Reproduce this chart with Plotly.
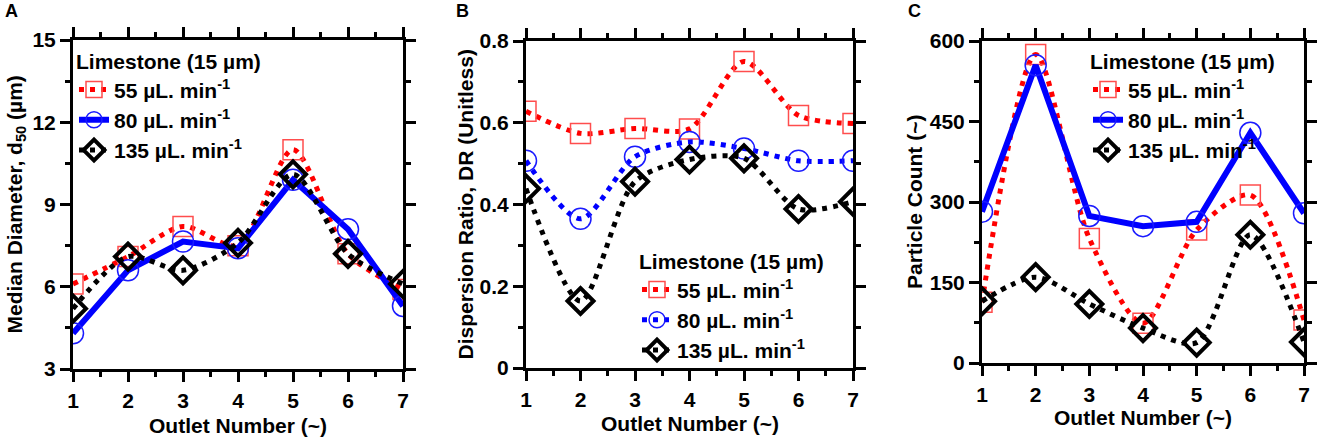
import plotly.graph_objects as go

W, H = 1323, 442

outlets = [1, 2, 3, 4, 5, 6, 7]

# A - median diameter d50 (um)
d50_55 = [6.1, 7.1, 8.2, 7.5, 11.0, 7.2, 5.9]
d50_80 = [4.3, 6.6, 7.65, 7.4, 9.9, 8.1, 5.3]
d50_135 = [5.2, 7.1, 6.6, 7.6, 10.1, 7.2, 6.1]

# B - dispersion ratio
dr_55 = [0.628, 0.574, 0.586, 0.585, 0.75, 0.618, 0.598]
dr_80 = [0.507, 0.365, 0.517, 0.553, 0.537, 0.507, 0.507]
dr_135 = [0.439, 0.164, 0.456, 0.510, 0.513, 0.389, 0.407]

# C - particle count
pc_55 = [113, 575, 232, 74, 248, 313, 80]
pc_80 = [282, 555, 274, 255, 263, 429, 279]
pc_135 = [115, 160, 110, 65, 38, 239, 39]

names = ["55 µL. min<sup>-1</sup>", "80 µL. min<sup>-1</sup>", "135 µL. min<sup>-1</sup>"]
legend_title = "Limestone (15 µm)"

FONT = "Liberation Sans, Arial, sans-serif"


def px_x(p):
    return p / W


def px_y(p):
    return 1 - p / H


# plot boxes in pixels: left, right, top, bottom
boxes = [(73, 403, 40, 369), (526, 853, 41, 368), (982, 1304, 41, 363)]

fig = go.Figure()


def add_panel(i, y55, y80, y135, blue_solid):
    xa = "x" if i == 0 else f"x{i + 1}"
    ya = "y" if i == 0 else f"y{i + 1}"
    lg = "legend" if i == 0 else f"legend{i + 1}"
    fig.add_trace(go.Scatter(
        x=outlets, y=y55, name=names[0], xaxis=xa, yaxis=ya, legend=lg,
        mode="lines+markers",
        line=dict(color="#ff0000", width=5, dash="5px,6px", shape="spline", smoothing=0.8),
        marker=dict(symbol="square-open", size=20, color="#ff4d4d", line=dict(width=1.5)),
    ))
    if blue_solid:
        bline = dict(color="#0000ff", width=6)
    else:
        bline = dict(color="#0000ff", width=5, dash="5px,6px", shape="spline", smoothing=0.8)
    fig.add_trace(go.Scatter(
        x=outlets, y=y80, name=names[1], xaxis=xa, yaxis=ya, legend=lg,
        mode="lines+markers",
        line=bline,
        marker=dict(symbol="circle-open", size=21, color="#1a1aff", line=dict(width=1.5)),
    ))
    fig.add_trace(go.Scatter(
        x=outlets, y=y135, name=names[2], xaxis=xa, yaxis=ya, legend=lg,
        mode="lines+markers",
        line=dict(color="#000000", width=5, dash="5px,6px", shape="spline", smoothing=0.8),
        marker=dict(symbol="diamond-open", size=20, color="#000000", line=dict(width=4)),
    ))


add_panel(0, d50_55, d50_80, d50_135, True)
add_panel(1, dr_55, dr_80, dr_135, False)
add_panel(2, pc_55, pc_80, pc_135, True)

FS = 21
tick_font = dict(family=FONT, size=FS, color="black", weight="bold")

yranges = [([3, 15], 3, 1.5), ([0, 0.8], 0.2, 0.1), ([0, 600], 150, 75)]

layout = dict(
    width=W, height=H, autosize=False,
    margin=dict(l=0, r=0, t=0, b=0, pad=0, autoexpand=False),
    paper_bgcolor="white", plot_bgcolor="white",
    font=dict(family=FONT, color="black"),
)

for i, (l, r, t, b) in enumerate(boxes):
    sx = "" if i == 0 else str(i + 1)
    rng, dt, mdt = yranges[i]
    layout["xaxis" + sx] = dict(
        domain=[px_x(l), px_x(r)], anchor="y" + sx, range=[1, 7],
        tickvals=outlets, showgrid=False, zeroline=False, automargin=False,
        showline=True, linewidth=3, linecolor="black", mirror="allticks",
        ticks="outside", ticklen=10, tickwidth=3, tickcolor="black",
        tickfont=tick_font, ticklabelstandoff=1,
        minor=dict(dtick=0.5, tick0=1, ticks="outside", ticklen=5, tickwidth=3, tickcolor="black", showgrid=False),
    )
    layout["yaxis" + sx] = dict(
        domain=[px_y(b), px_y(t)], anchor="x" + sx, range=rng,
        dtick=dt, tick0=0, showgrid=False, zeroline=False, automargin=False,
        showline=True, linewidth=3, linecolor="black", mirror="allticks",
        ticks="outside", ticklen=10, tickwidth=3, tickcolor="black",
        tickfont=tick_font, ticklabelstandoff=0,
        minor=dict(dtick=mdt, ticks="outside", ticklen=5, tickwidth=3, tickcolor="black", showgrid=False),
    )

leg_font = dict(family=FONT, size=FS, color="black", weight="bold")
leg_pos = [(74, 42), (637, 242), (1088, 42)]
for i, (lx, ly) in enumerate(leg_pos):
    key = "legend" if i == 0 else f"legend{i + 1}"
    layout[key] = dict(
        x=px_x(lx), y=px_y(ly), xanchor="left", yanchor="top",
        bgcolor="rgba(0,0,0,0)", borderwidth=0,
        font=leg_font, itemwidth=30,
        title=dict(text=legend_title, font=leg_font),
        tracegroupgap=0,
    )

fig.update_layout(**layout)

ann_font = dict(family=FONT, size=FS, color="black", weight="bold")

# x axis titles
for (l, r, t, b), yy in zip(boxes, [425, 423, 417]):
    fig.add_annotation(text="Outlet Number (~)", x=px_x((l + r) / 2), y=px_y(yy),
                       xref="paper", yref="paper", xanchor="center", yanchor="middle",
                       showarrow=False, font=ann_font)

# y axis titles
ytitles = ["Median Diameter, d<sub>50</sub> (µm)", "Dispersion Ratio, DR (Unitless)", "Particle Count (~)"]
for (l, r, t, b), xx, txt in zip(boxes, [15, 465, 915], ytitles):
    fig.add_annotation(text=txt, x=px_x(xx), y=px_y((t + b) / 2), textangle=-90,
                       xref="paper", yref="paper", xanchor="center", yanchor="middle",
                       showarrow=False, font=ann_font)

# panel letters
for lab, xx in zip(["A", "B", "C"], [11, 462, 915]):
    fig.add_annotation(text=lab, x=px_x(xx), y=px_y(11), xref="paper", yref="paper",
                       xanchor="center", yanchor="middle", showarrow=False,
                       font=dict(family=FONT, size=18, color="black", weight="bold"))

# the page body has an 8px default margin, drop it so the figure fills the window
fig.write_html("out.html", config={"displayModeBar": False},
               post_script="document.body.style.margin = '0px';")
